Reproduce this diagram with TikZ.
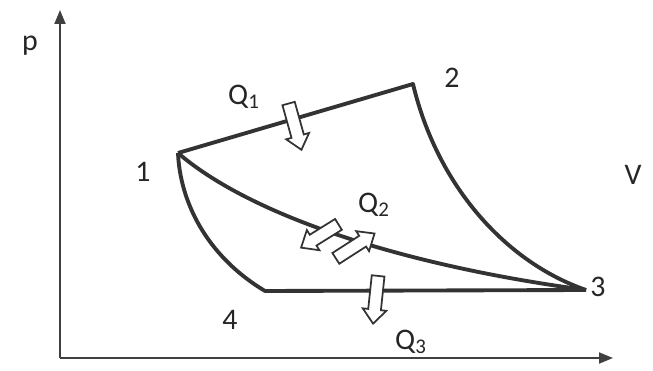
\documentclass[tikz,border=0pt]{standalone}
\usepackage{fontspec}
\setmainfont{Carlito}
\usetikzlibrary{arrows.meta,shapes.arrows}

\begin{document}
\begin{tikzpicture}[>={Triangle[length=0.28cm,width=0.22cm]},x=0.02cm,y=-0.02cm,
  axis/.style={black!75,line width=1.1pt},
  proc/.style={black!80,line width=2.2pt,line join=round},
  heat/.style={single arrow,draw=black!80,fill=white,line width=1pt,inner xsep=0pt,
    inner ysep=0.11cm,single arrow head extend=0.11cm,single arrow tip angle=80},
  lbl/.style={black!85,font=\fontsize{17}{20}\selectfont}]
  \useasboundingbox (0,0) rectangle (653,371);
  % axes
  \coordinate (O) at (60,358);
  \coordinate (ptop) at (60,10);
  \coordinate (vend) at (613,358);
  \draw[axis,->] (O) -- (ptop);
  \draw[axis,->] (O) -- (vend);
  \node[lbl] (p) at (30,46) {p};
  \node[lbl] (V) at (633,175) {V};

  % states of the cycle
  \coordinate (P1) at (178,153);
  \coordinate (P2) at (413,84);
  \coordinate (P3) at (586,290);
  \coordinate (P4) at (265,291);
  \draw[proc] (P1) -- (P2) .. controls (437,185) and (505,262) .. (P3);
  \draw[proc] (P1) .. controls (250,215) and (400,265) .. (P3);
  \draw[proc] (P1) .. controls (180,200) and (205,255) .. (P4) -- (P3);
  \node[lbl] (n1) at (143,172) {1};
  \node[lbl] (n2) at (452,78) {2};
  \node[lbl] (n3) at (598,287) {3};
  \node[lbl] (n4) at (230,320) {4};

  % heat flows
  \node[heat,minimum height=0.96cm,rotate=-74.5] (q1) at (294,123) {};
  \node[heat,minimum height=0.88cm,rotate=211.9] (q2in) at (323,234) {};
  \node[heat,minimum height=0.92cm,rotate=32.7] (q2out) at (352,248) {};
  \node[heat,minimum height=0.96cm,rotate=-96] (q3) at (376,296) {};
  \node[lbl] (Q1) at (244,97) {Q\textsubscript{1}};
  \node[lbl] (Q2) at (374,205) {Q\textsubscript{2}};
  \node[lbl] (Q3) at (411,342) {Q\textsubscript{3}};
\end{tikzpicture}
\end{document}
